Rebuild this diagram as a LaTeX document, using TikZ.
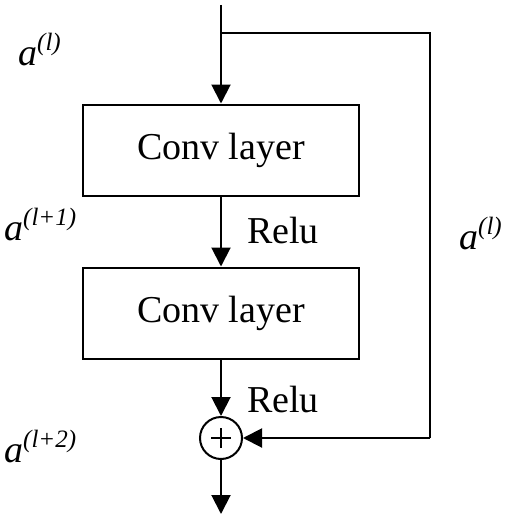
\documentclass[tikz,border=0pt]{standalone}
\usepackage{fontspec}
\setmainfont{Liberation Serif}
\usetikzlibrary{arrows.meta}
\tikzset{
  line/.style={line width=2pt, draw=black},
  arr/.style={line, -{Triangle[length=19pt,width=19pt]}},
  convbox/.style={draw, line width=2pt, minimum width=276pt, minimum height=91pt, inner sep=0pt, font=\fontsize{38}{40}\selectfont},
  lbl/.style={font=\fontsize{38}{40}\selectfont, inner sep=0pt},
  alabel/.style={anchor=base west, inner sep=0pt, font=\fontsize{38}{40}\selectfont\itshape},
  addnode/.style={circle, draw, line width=2pt, minimum size=42pt, inner sep=0pt}
}
\newcommand{\supr}[1]{\raisebox{15pt}{\fontsize{25}{26}\selectfont #1}}
\begin{document}
\begin{tikzpicture}[x=1pt,y=-1pt]
\useasboundingbox (0,0) rectangle (507,519);
\node[convbox] (c1) at (221,150) {Conv layer};
\node[convbox] (c2) at (221,313) {Conv layer};
\node[addnode] (add) at (221,438) {};
\draw[line width=1.1pt] ([xshift=-10pt]add.center) -- ([xshift=10pt]add.center)
  ([yshift=-10pt]add.center) -- ([yshift=10pt]add.center);
\coordinate (top) at (221,5);
\coordinate (split) at (221,33);
\coordinate (rt) at (430,33);
\coordinate (rb) at (430,438);
\coordinate (out) at (221,514);
\draw[arr] (top) -- (c1.north);
\draw[line] (split) -- (rt) -- (rb);
\draw[arr] (rb) -- (add.east);
\draw[arr] (c1.south) -- (c2.north);
\draw[arr] (c2.south) -- (add.north);
\draw[arr] (add.south) -- (out);
\node[lbl, anchor=base west] (r1) at (247,243) {Relu};
\node[lbl, anchor=base west] (r2) at (247,412) {Relu};
\node[alabel] (a1) at (18,66) {a\supr{(l)}};
\node[alabel] (a2) at (4,240) {a\supr{(l+1)}};
\node[alabel] (a3) at (4,462) {a\supr{(l+2)}};
\node[alabel] (a4) at (459,249) {a\supr{(l)}};
\end{tikzpicture}
\end{document}
